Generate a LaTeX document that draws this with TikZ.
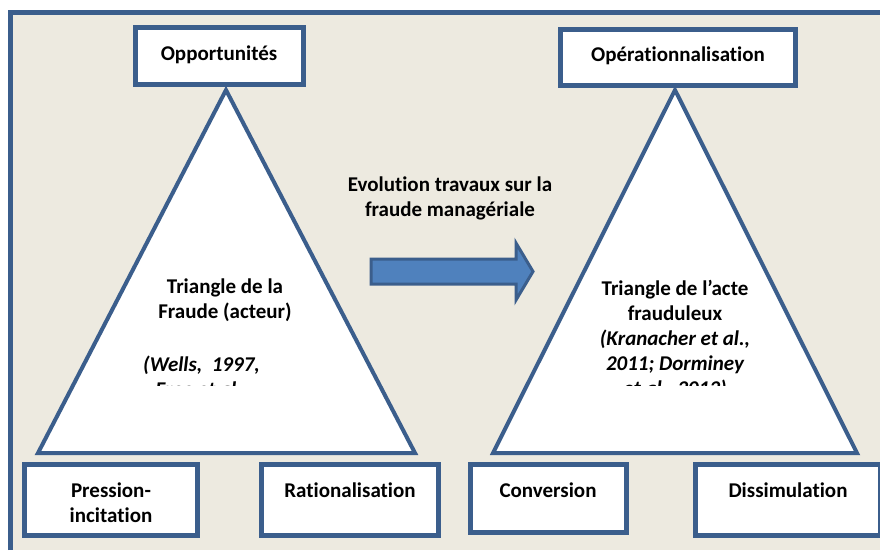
\documentclass[tikz,border=0pt]{standalone}
\usepackage{fontspec}
\setmainfont{Carlito}[RawFeature={-liga}]
\definecolor{frameblue}{RGB}{59,94,140}
\definecolor{beige}{RGB}{237,234,224}
\definecolor{arrowfill}{RGB}{79,129,189}
\begin{document}
\begin{tikzpicture}[x=1pt,y=-1pt,
  boxst/.style={draw=frameblue,line width=5pt,fill=white,inner sep=0pt},
  tri/.style={draw=frameblue,line width=4pt,fill=white,line join=miter},
  lbl/.style={font=\fontsize{21}{25}\selectfont\bfseries,align=center,inner sep=0pt},
  ilbl/.style={font=\fontsize{21}{25}\selectfont\bfseries\itshape,align=center,inner sep=0pt}]
\useasboundingbox (0,0) rectangle (880,550);
\fill[white] (0,0) rectangle (880,550);
\fill[beige] (10,12) rectangle (880,550);
\draw[frameblue,line width=4.5pt] (10.5,550) -- (10.5,12.5) -- (880,12.5);
% left triangle
\coordinate (lA) at (226,90);
\coordinate (lB) at (38,453);
\coordinate (lC) at (415,453);
\draw[tri] (lA) -- (lB) -- (lC) -- cycle;
% right triangle
\coordinate (rA) at (675,90);
\coordinate (rB) at (493,453);
\coordinate (rC) at (857,453);
\draw[tri] (rA) -- (rB) -- (rC) -- cycle;
% boxes
\node[boxst,minimum width=168pt,minimum height=57pt] (opp) at (219.5,55.5) {};
\node[boxst,minimum width=235pt,minimum height=56pt] (oper) at (678,57.5) {};
\node[boxst,minimum width=173pt,minimum height=71pt] (press) at (111,500) {};
\node[boxst,minimum width=177pt,minimum height=71pt] (ratio) at (349.5,500) {};
\node[boxst,minimum width=156pt,minimum height=68pt] (conv) at (548.5,498.5) {};
\node[boxst,minimum width=185pt,minimum height=71pt] (dissi) at (787.5,500) {};
% box labels
\node[lbl] (tOpp) at (219,55) {Opportunités};
\node[lbl] (tOper) at (678,56) {Opérationnalisation};
\node[lbl] (tPress) at (111,503) {Pression-\\incitation};
\node[lbl] (tRatio) at (350,490) {Rationalisation};
\node[lbl] (tConv) at (548,490) {Conversion};
\node[lbl] (tDissi) at (788,490) {Dissimulation};
% arrow
\node[lbl] (tEvol) at (450,198) {Evolution travaux sur la\\fraude managériale};
\draw[draw=frameblue,fill=arrowfill,line width=3pt,line join=miter]
  (371,259) -- (516,259) -- (516,243) -- (533,271.5) -- (516,300) -- (516,284) -- (371,284) -- cycle;
% triangle texts
\node[lbl] (tTri1) at (225,300.5) {Triangle de la\\Fraude (acteur)};
\node[lbl] (tTri2) at (675,300.5) {Triangle de l’acte\\frauduleux};
\begin{scope}
\clip (0,0) rectangle (880,385);
\node[ilbl,anchor=west] (tWells) at (143,378) {(Wells,\ \ 1997,\\Free et al.,};
\node[ilbl] (tKran) at (675,364) {(Kranacher et al.,\\2011; Dorminey\\et al., 2012)};
\end{scope}
\end{tikzpicture}
\end{document}
